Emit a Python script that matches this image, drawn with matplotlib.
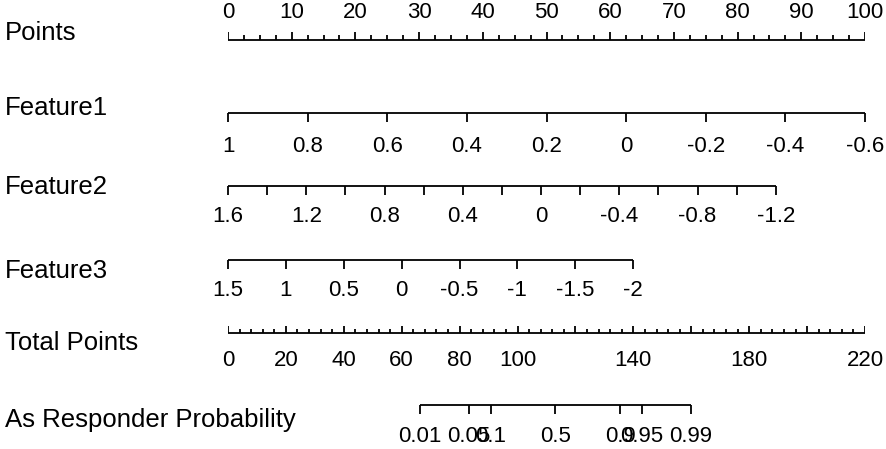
"""Nomogram: three features -> points -> total points -> responder probability."""

import matplotlib
matplotlib.use("Agg")
import matplotlib.pyplot as plt
import matplotlib.transforms as mtransforms
import numpy as np

plt.rcParams["font.family"] = ["Liberation Sans", "DejaVu Sans"]

# --------------------------------------------------------------------------- #
# data
# --------------------------------------------------------------------------- #
points_ticks = np.arange(0, 100.1, 2.5)
points_labels = [0, 10, 20, 30, 40, 50, 60, 70, 80, 90, 100]

# feature value at each end of its line and the points that value earns
feature1_range = [1.0, -0.6]
feature1_points = [0, 100]
feature1_ticks = [1, 0.8, 0.6, 0.4, 0.2, 0, -0.2, -0.4, -0.6]
feature1_labels = ["1", "0.8", "0.6", "0.4", "0.2", "0", "-0.2", "-0.4", "-0.6"]

feature2_range = [1.6, -1.2]
feature2_points = [0, 86.0]
feature2_ticks = [1.6, 1.4, 1.2, 1.0, 0.8, 0.6, 0.4, 0.2, 0, -0.2, -0.4, -0.6, -0.8, -1.0, -1.2]
feature2_labels = ["1.6", "1.2", "0.8", "0.4", "0", "-0.4", "-0.8", "-1.2"]
feature2_label_vals = [1.6, 1.2, 0.8, 0.4, 0, -0.4, -0.8, -1.2]

feature3_range = [1.5, -2.0]
feature3_points = [0, 63.6]
feature3_ticks = [1.5, 1, 0.5, 0, -0.5, -1, -1.5, -2]
feature3_labels = ["1.5", "1", "0.5", "0", "-0.5", "-1", "-1.5", "-2"]

total_max = 220
total_ticks = np.arange(0, 220.1, 4)
total_major = np.arange(0, 220.1, 20)
total_labels = [0, 20, 40, 60, 80, 100, 140, 180, 220]

# total points = intercept + slope * logit(p)
prob_intercept = 113.1
prob_slope = 10.16
prob_ticks = [0.01, 0.05, 0.1, 0.5, 0.9, 0.95, 0.99]
prob_labels = ["0.01", "0.05", "0.1", "0.5", "0.9", "0.95", "0.99"]

TICK_FS = 16
NAME_FS = 18.5

# --------------------------------------------------------------------------- #
W, H = 886, 449
fig = plt.figure(figsize=(W / 100, H / 100), dpi=100)
# x is in "points" units (0-100), y is in pixel rows
ax = fig.add_axes([228 / W, 0, 637 / W, 1])
ax.set_xlim(0, 100)
ax.set_ylim(H, 0)
ax.axis("off")
name_tf = mtransforms.blended_transform_factory(fig.transFigure, ax.transData)
LW = 1.3


def feat_to_pts(vals, rng, pts):
    return np.interp(vals, rng[::-1], pts[::-1]) if rng[0] > rng[1] else np.interp(vals, rng, pts)


def name(text, y):
    ax.text(5 / W, y, text, transform=name_tf, fontsize=NAME_FS, va="center", ha="left")


def down_axis(xs, lab_xs, labels, y, tick=9, gap=31):
    ax.hlines(y, min(xs), max(xs), color="black", lw=LW, clip_on=False)
    ax.vlines(xs, y, y + tick, color="black", lw=LW, clip_on=False)
    for x, lab in zip(lab_xs, labels):
        ax.text(x, y + gap, lab, fontsize=TICK_FS, ha="center", va="center")


# Points
name("Points", 33)
y = 40
ax.hlines(y, 0, 100, color="black", lw=LW)
major = np.isin(points_ticks, points_labels)
ax.vlines(points_ticks[major], y, y - 8, color="black", lw=LW)
ax.vlines(points_ticks[~major], y, y - 5, color="black", lw=LW)
for v in points_labels:
    ax.text(v, 13, str(v), fontsize=TICK_FS, ha="center", va="center")

# Feature1
name("Feature1", 108)
xs = feat_to_pts(feature1_ticks, feature1_range, feature1_points)
down_axis(xs, xs, feature1_labels, 113, gap=34)

# Feature2
name("Feature2", 187)
xs = feat_to_pts(feature2_ticks, feature2_range, feature2_points)
lxs = feat_to_pts(feature2_label_vals, feature2_range, feature2_points)
down_axis(xs, lxs, feature2_labels, 186, gap=31)

# Feature3
name("Feature3", 271)
xs = feat_to_pts(feature3_ticks, feature3_range, feature3_points)
down_axis(xs, xs, feature3_labels, 260, gap=31)

# Total Points
name("Total Points", 343)
y = 333
scale = 100 / total_max
ax.hlines(y, 0, 100, color="black", lw=LW)
tmaj = np.isin(total_ticks, total_major)
ax.vlines(total_ticks[tmaj] * scale, y, y - 7, color="black", lw=LW)
ax.vlines(total_ticks[~tmaj] * scale, y, y - 4, color="black", lw=LW)
for v in total_labels:
    ax.text(v * scale, 360, str(v), fontsize=TICK_FS, ha="center", va="center")

# Probability
name("As Responder Probability", 420)
p = np.array(prob_ticks)
xs = (prob_intercept + prob_slope * np.log(p / (1 - p))) * scale
down_axis(xs, xs, prob_labels, 405, gap=32)

fig.savefig("out.png", dpi=100)
